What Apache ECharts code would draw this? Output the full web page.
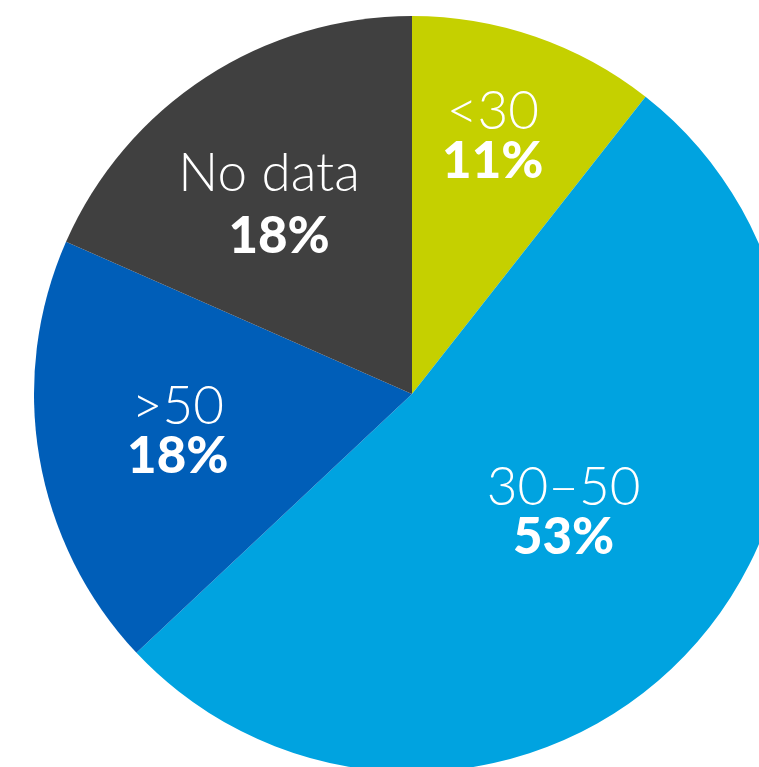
<!DOCTYPE html>
<html>
<head>
<meta charset="utf-8">
<script src="https://cdn.jsdelivr.net/npm/echarts@6/dist/echarts.min.js"></script>
<style>html,body{margin:0;padding:0;background:#fff;}#c{width:759px;height:767px;}</style>
</head>
<body>
<div id="c"></div>
<script>
const categories = ['<30', '30–50', '>50', 'No data'];
const shares = [10.6, 52.4, 18.6, 18.4];
const pctLabels = ['11%', '53%', '18%', '18%'];
const colors = ['#c5d000', '#00a3e0', '#005eb8', '#404040'];

const labelShift = [[18, -76], [10, -11], [-45, 5], [-38, -28]];
const lineGap = [50, 50, 50, 62];

const nameStyle = { fontFamily: 'Lato', fontWeight: 300, fontSize: 53, color: '#fff' };
const pctStyle = { fontFamily: 'Lato', fontWeight: 900, fontSize: 51, color: '#fff' };

const chart = echarts.init(document.getElementById('c'));
chart.setOption({
  animation: false,
  series: [{
    type: 'pie',
    center: [412, 394],
    radius: [0, 378],
    startAngle: 90,
    clockwise: true,
    silent: true,
    itemStyle: { borderWidth: 0 },
    label: {
      show: true,
      position: 'inside',
      color: '#fff',
      formatter: p => '{n|' + p.name + '}\n{v|' + pctLabels[p.dataIndex] + '}'
    },
    labelLine: { show: false },
    labelLayout: p => ({ dx: labelShift[p.dataIndex][0], dy: labelShift[p.dataIndex][1] }),
    data: categories.map((c, i) => ({
      name: c,
      value: shares[i],
      itemStyle: { color: colors[i] },
      label: {
        rich: {
          n: Object.assign({ lineHeight: lineGap[i] }, nameStyle),
          v: Object.assign({ lineHeight: lineGap[i], padding: i === 3 ? [0, 0, 0, 20] : 0 }, pctStyle)
        }
      }
    }))
  }]
});
</script>
</body>
</html>
